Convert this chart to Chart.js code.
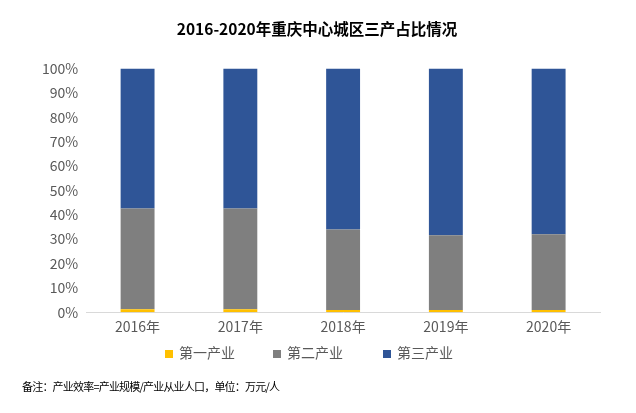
<!DOCTYPE html>
<html>
<head>
<meta charset="utf-8">
<script src="https://cdn.jsdelivr.net/npm/chart.js@4"></script>
<style>
  html, body { margin: 0; padding: 0; background: #fff; }
  #wrap { position: relative; width: 636px; height: 413px; }
  #legend {
    position: absolute; left: 0; top: 342px; width: 636px; height: 20px;
    font: 14px "Noto Sans CJK SC", sans-serif; color: #595959;
  }
  .item { position: absolute; top: 0; line-height: 20px; white-space: nowrap; }
  .box { display: inline-block; width: 8px; height: 8px; margin-right: 6px; vertical-align: 0px; }
  #note {
    position: absolute; left: 22px; top: 378px;
    font: 11px "Noto Sans CJK SC", sans-serif; color: #000; letter-spacing: -0.8px;
  }
</style>
</head>
<body>
<div id="wrap">
  <canvas id="chart" width="636" height="413"></canvas>
  <div id="legend"></div>
  <div id="note">备注：产业效率=产业规模/产业从业人口，单位：万元/人</div>
</div>
<script>
// ==============================
// DATA
// ==============================
const years = ["2016年", "2017年", "2018年", "2019年", "2020年"];
const primary = [1.2, 1.2, 0.9, 0.9, 0.9];
const secondary = [41.4, 41.4, 33.1, 30.7, 31.1];
const tertiary = [57.4, 57.4, 66.0, 68.4, 68.0];
const seriesNames = ["第一产业", "第二产业", "第三产业"];
const colors = ["#FFC000", "#7F7F7F", "#2F5597"];

const FONT = '"Noto Sans CJK SC", sans-serif';

// legend drawn as html so spacing matches the original
const legendX = [165, 273, 383];
const legendBox = document.getElementById("legend");
seriesNames.forEach((name, i) => {
  const item = document.createElement("div");
  item.className = "item";
  item.style.left = legendX[i] + "px";
  item.innerHTML = `<span class="box" style="background:${colors[i]}"></span>${name}`;
  legendBox.appendChild(item);
});

const ctx = document.getElementById("chart");

new Chart(ctx, {
  type: "bar",
  data: {
    labels: years,
    datasets: [primary, secondary, tertiary].map((d, i) => ({
      label: seriesNames[i],
      data: d,
      backgroundColor: colors[i],
      borderWidth: 0,
      barPercentage: 0.33,
      categoryPercentage: 1,
    })),
  },
  options: {
    responsive: false,
    animation: false,
    layout: { padding: { left: 34, right: 36, bottom: 72 } },
    scales: {
      x: {
        stacked: true,
        grid: { display: false, drawTicks: false },
        border: { color: "#D9D9D9", width: 1 },
        ticks: { color: "#595959", font: { family: FONT, size: 14 }, padding: 6 },
      },
      y: {
        stacked: true,
        min: 0,
        max: 100,
        grid: { display: false, drawTicks: false },
        border: { display: false },
        ticks: {
          stepSize: 10,
          color: "#595959",
          font: { family: FONT, size: 14 },
          padding: 8,
          callback: (v) => v + "%",
        },
      },
    },
    plugins: {
      title: {
        display: true,
        text: "2016-2020年重庆中心城区三产占比情况",
        color: "#000",
        font: { family: FONT, size: 15.5, weight: "bold" },
        padding: { top: 20, bottom: 30 },
      },
      legend: { display: false },
      tooltip: { enabled: false },
    },
  },
});
</script>
</body>
</html>
